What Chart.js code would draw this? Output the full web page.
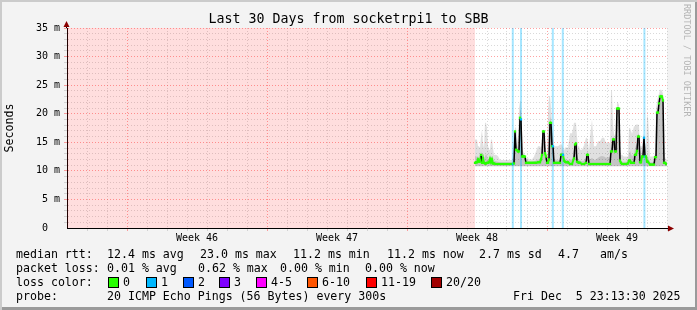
<!DOCTYPE html>
<html>
<head>
<meta charset="utf-8">
<script src="https://cdn.jsdelivr.net/npm/chart.js@4.4.1/dist/chart.umd.min.js"></script>
<style>
  html, body { margin: 0; padding: 0; background: #fff; }
  #wrap { position: relative; width: 697px; height: 310px; background: #f3f3f3; overflow: hidden;
          box-shadow: inset 2px 2px 0 #cbcbcb, inset -2px -3px 0 #9a9a9a; }
  #c { position: absolute; left: 0; top: 0; }
  .t { position: absolute; font-family: 'DejaVu Sans Mono', monospace; font-size: 11.6px; line-height: 14px;
       white-space: pre; color: #000; }
  .title { position: absolute; left: 0; width: 697px; top: 11px; text-align: center;
           font-family: 'DejaVu Sans Mono', monospace; font-size: 13.3px; line-height: 16px; color: #000; }
  .sw { position: absolute; width: 9px; height: 9px; border: 1px solid #000; }
  .credit { position: absolute; left: 682px; top: 4px; writing-mode: vertical-rl;
            font-family: 'DejaVu Sans Mono', monospace; font-size: 8.5px; line-height: 10px; color: #b4b4b4; }
</style>
</head>
<body>
<div id="wrap">
  <canvas id="c" width="697" height="310"></canvas>
  <div class="title">Last 30 Days from socketrpi1 to SBB</div>
  <div class="credit">RRDTOOL / TOBI OETIKER</div>
</div>
<script>
// time axis in days since start of window (30 days), values in ms
const weekLabels = ['Week 46', 'Week 47', 'Week 48', 'Week 49'];
const weekTicks = [6.5, 13.5, 20.5, 27.5];
const majorDays = [3, 10, 17, 24];
const yMajor = [5, 10, 15, 20, 25, 30, 35];

// period with no data (pink)
const noDataRange = [0, 20.4];
// loss events (1/20 lost)
const lossTimes = [22.29, 22.70, 24.29, 24.79, 28.87];

const times = [
  20.40, 20.45, 20.50, 20.55, 20.60, 20.65, 20.70, 20.75, 20.80, 20.85, 20.90, 20.95, 21.00, 21.05, 21.10, 21.15, 21.20, 21.25, 21.30, 21.35,
  21.45, 21.55, 21.65, 21.75, 21.85, 21.95, 22.05, 22.15, 22.25,
  22.30, 22.35, 22.40, 22.45, 22.50, 22.55, 22.60, 22.65, 22.70, 22.75, 22.80, 22.85, 22.90, 22.95,
  23.05, 23.15, 23.25, 23.35, 23.45, 23.55, 23.65,
  23.70, 23.75, 23.80, 23.85, 23.90, 23.95, 24.00, 24.05, 24.10, 24.15, 24.20, 24.25, 24.30, 24.35,
  24.45, 24.55, 24.65,
  24.70, 24.75, 24.80, 24.85, 24.90, 24.95,
  25.05, 25.15, 25.25,
  25.35, 25.40, 25.45, 25.50, 25.55, 25.60, 25.65,
  25.75, 25.85, 25.95, 26.00, 26.05, 26.10, 26.15, 26.25, 26.35, 26.45, 26.55, 26.65, 26.75, 26.85, 26.95, 27.05, 27.15,
  27.20, 27.25, 27.30, 27.35, 27.40, 27.45, 27.50, 27.55, 27.60, 27.65, 27.70, 27.75,
  27.85, 27.95, 28.05,
  28.10, 28.15, 28.20, 28.25,
  28.35, 28.40, 28.45, 28.50, 28.55, 28.60, 28.65, 28.70, 28.75, 28.80, 28.85, 28.90, 28.95, 29.00, 29.05,
  29.15, 29.25, 29.35,
  29.40, 29.45, 29.50, 29.55, 29.60, 29.65, 29.70, 29.75, 29.80, 29.85, 29.90, 29.95, 30.00
];

const median = [
  11.4, 11.5, 11.5, 12.0, 11.6, 11.8, 12.8, 11.4, 12.2, 11.4, 11.3, 11.3, 11.4, 11.4, 11.5, 12.1, 11.5, 12.0, 11.3, 11.3,
  11.2, 11.2, 11.2, 11.2, 11.2, 11.2, 11.2, 11.2, 11.2,
  11.2, 11.3, 16.9, 13.7, 13.6, 13.4, 13.4, 19.3, 19.0, 12.5, 12.6, 12.5, 12.5, 11.4,
  11.4, 11.4, 11.4, 11.4, 11.4, 11.5, 11.5,
  12.0, 12.8, 16.9, 16.9, 13.1, 12.5, 11.4, 11.4, 12.0, 18.4, 18.4, 14.3, 14.3, 11.4,
  11.4, 11.4, 11.4,
  12.8, 12.8, 12.8, 11.8, 11.6, 11.5,
  11.5, 11.2, 11.2,
  12.2, 14.6, 14.8, 11.6, 11.5, 11.4, 11.4,
  11.2, 11.2, 11.4, 12.8, 12.8, 11.2, 11.2, 11.2, 11.2, 11.2, 11.2, 11.2, 11.2, 11.2, 11.2, 11.2, 11.2,
  13.4, 13.4, 15.5, 15.5, 13.4, 13.4, 20.9, 20.9, 20.9, 11.8, 11.4, 11.2,
  11.2, 11.2, 11.3,
  11.8, 11.8, 11.4, 11.4,
  11.4, 12.8, 12.8, 13.5, 16.0, 16.0, 11.5, 11.5, 12.5, 12.5, 15.8, 12.5, 12.5, 11.6, 11.6,
  11.1, 11.1, 11.1,
  12.4, 12.4, 20.2, 20.2, 21.8, 23.0, 23.0, 23.0, 22.3, 11.4, 11.4, 11.2, 11.2
];

// smoke: highest ping of each interval
const smokeMax = [
  15.5, 15.5, 15.5, 14.3, 14.3, 14.0, 16.0, 17.2, 15.0, 14.0, 18.4, 18.4, 17.5, 14.5, 13.7, 13.7, 15.5, 15.5, 14.0, 12.8,
  12.8, 12.6, 11.9, 11.9, 11.9, 11.9, 11.9, 11.9, 11.9,
  12.5, 15.0, 17.6, 17.6, 16.0, 15.0, 21.0, 22.2, 22.2, 16.0, 13.5, 13.0, 12.8, 12.2,
  12.2, 12.0, 12.0, 12.5, 13.4, 14.3, 14.3,
  14.0, 15.0, 17.2, 17.2, 15.0, 13.5, 12.5, 20.0, 23.1, 23.1, 21.0, 18.0, 16.0, 14.3,
  14.3, 14.3, 14.6,
  14.6, 14.6, 14.0, 13.5, 14.1, 14.1,
  14.1, 16.6, 16.6,
  18.4, 18.4, 18.4, 16.0, 14.3, 14.3, 13.7,
  13.7, 14.5, 15.8, 15.8, 15.0, 13.5, 16.0, 19.0, 14.3, 14.3, 15.2, 15.2, 15.8, 15.8, 14.9, 14.9, 14.9,
  24.0, 24.0, 18.0, 16.5, 16.0, 17.0, 22.0, 22.0, 21.5, 14.0, 12.8, 12.8,
  12.5, 12.5, 12.5,
  17.5, 17.5, 17.0, 16.5,
  17.8, 17.8, 18.1, 18.1, 18.1, 18.0, 14.3, 14.3, 14.3, 16.0, 16.5, 15.0, 14.0, 19.5, 19.5,
  12.5, 12.5, 12.5,
  13.0, 21.0, 22.0, 23.0, 23.5, 24.2, 24.2, 24.0, 23.5, 14.0, 12.5, 12.0, 12.0
];

// smoke: denser middle part of the pings
const smokeMid = [
  12.5, 12.6, 12.4, 12.6, 12.2, 12.3, 13.4, 12.8, 13.0, 12.0, 12.5, 13.0, 12.6, 12.0, 12.0, 12.5, 12.3, 12.6, 12.0, 11.8,
  11.7, 11.6, 11.5, 11.5, 11.5, 11.5, 11.5, 11.5, 11.5,
  11.6, 12.5, 17.0, 15.0, 14.5, 14.0, 16.0, 20.7, 20.5, 13.5, 12.9, 12.7, 12.6, 11.7,
  11.7, 11.6, 11.6, 11.7, 11.8, 12.0, 12.0,
  12.3, 13.5, 17.0, 17.0, 13.8, 12.8, 11.8, 13.0, 15.0, 19.5, 19.0, 15.5, 14.8, 12.0,
  12.0, 11.8, 12.0,
  13.2, 13.2, 13.0, 12.3, 12.2, 12.0,
  11.9, 12.0, 12.0,
  13.0, 15.0, 15.2, 12.5, 12.0, 11.9, 11.8,
  11.7, 11.8, 12.2, 13.3, 13.2, 11.8, 12.0, 12.3, 11.9, 12.0, 12.3, 12.5, 12.6, 12.5, 12.3, 12.4, 12.5,
  15.0, 15.2, 16.0, 15.8, 14.2, 14.5, 21.0, 21.0, 20.9, 12.5, 11.8, 11.6,
  11.6, 11.6, 11.7,
  13.0, 13.5, 13.0, 12.5,
  13.0, 14.0, 14.5, 15.0, 16.5, 16.5, 12.5, 12.3, 13.0, 13.5, 16.0, 13.0, 12.8, 12.5, 12.5,
  11.5, 11.5, 11.5,
  12.6, 14.0, 20.8, 21.0, 22.3, 23.4, 23.4, 23.3, 22.8, 12.0, 11.7, 11.5, 11.5
];
const smokeFloor = 10.8;

// legend text
const statRows = [
  ['median rtt:', '12.4 ms avg', '23.0 ms max', '11.2 ms min', '11.2 ms now', '2.7 ms sd', '4.7', 'am/s'],
  ['packet loss:', '0.01 % avg', '0.62 % max', '0.00 % min', '0.00 % now']
];
const lossLabels = ['0', '1', '2', '3', '4-5', '6-10', '11-19', '20/20'];
const lossColors = ['#26ff00', '#00b8ff', '#0059ff', '#7e00ff', '#ff00ff', '#ff5500', '#ff0000', '#a10000'];
const probeText = ['probe:', '20 ICMP Echo Pings (56 Bytes) every 300s', 'Fri Dec  5 23:13:30 2025'];

// layout of the legend block
const statX = [[16, 107, 200, 293, 387, 479, 558, 600], [16, 107, 198, 280, 365]];
const swatchX = [108, 146, 183, 219, 256, 307, 366, 431];
const probeX = [16, 107, 513];
const rowTop = [247, 261, 275, 289];

const wrap = document.getElementById('wrap');
function addText(txt, x, y) {
    const d = document.createElement('div');
    d.className = 't';
    d.style.left = x + 'px';
    d.style.top = y + 'px';
    d.textContent = txt;
    wrap.appendChild(d);
}
statRows.forEach((row, r) => row.forEach((txt, i) => addText(txt, statX[r][i], rowTop[r])));
addText('loss color:', 16, rowTop[2]);
lossLabels.forEach((lbl, i) => {
    const s = document.createElement('div');
    s.className = 'sw';
    s.style.left = swatchX[i] + 'px';
    s.style.top = (rowTop[2] + 2) + 'px';
    s.style.background = lossColors[i];
    wrap.appendChild(s);
    addText(lbl, swatchX[i] + 15, rowTop[2]);
});
probeText.forEach((txt, i) => addText(txt, probeX[i], rowTop[3]));

const pts = ys => times.map((t, i) => ({ x: t, y: ys[i] }));
const isLoss = t => lossTimes.some(l => Math.abs(l - t) < 0.03);

const halfDays = [];
for (let d = 0; d <= 60; d++) halfDays.push(d / 2);
const yTicks = [];
for (let v = 0; v <= 35; v++) yTicks.push(v);

const MAJOR = 'rgba(255, 70, 70, 0.5)';
const MINOR = 'rgba(160, 160, 160, 0.4)';

function xGrid(ctx) {
    if (!ctx.tick) return 'transparent';
    const v = ctx.tick.value;
    if (v === 0 || v % 1 !== 0) return 'transparent';
    return majorDays.includes(v) ? MAJOR : MINOR;
}
function yGrid(ctx) {
    if (!ctx.tick) return 'transparent';
    const v = ctx.tick.value;
    if (v === 0) return 'transparent';
    return yMajor.includes(v) ? MAJOR : MINOR;
}

const frame = {
    id: 'frame',
    beforeDraw(chart) {
        const { ctx, chartArea: a } = chart;
        ctx.save();
        ctx.fillStyle = '#ffffff';
        ctx.fillRect(a.left, a.top, a.right - a.left, a.bottom - a.top);
        ctx.restore();
    },
    afterDraw(chart) {
        const { ctx, chartArea: a } = chart;
        ctx.save();
        ctx.strokeStyle = '#000';
        ctx.lineWidth = 1;
        ctx.beginPath();
        ctx.moveTo(a.right, a.bottom + 0.5);
        ctx.lineTo(a.right + 4, a.bottom + 0.5);
        ctx.moveTo(a.left - 0.5, a.top);
        ctx.lineTo(a.left - 0.5, a.top - 3);
        ctx.stroke();
        ctx.fillStyle = '#8b0000';
        ctx.beginPath();
        ctx.moveTo(a.right + 7, a.bottom + 0.5);
        ctx.lineTo(a.right + 1, a.bottom - 2.5);
        ctx.lineTo(a.right + 1, a.bottom + 3.5);
        ctx.closePath();
        ctx.fill();
        ctx.beginPath();
        ctx.moveTo(a.left - 0.5, a.top - 7);
        ctx.lineTo(a.left - 3.5, a.top - 1);
        ctx.lineTo(a.left + 2.5, a.top - 1);
        ctx.closePath();
        ctx.fill();
        ctx.restore();
    }
};

Chart.defaults.font.family = "'DejaVu Sans Mono', monospace";

new Chart(document.getElementById('c'), {
    type: 'line',
    data: {
        datasets: [
            {
                // median rtt, coloured by loss
                data: pts(median),
                borderWidth: 2,
                borderColor: '#26ff00',
                segment: {
                    borderColor: ctx => Math.abs(ctx.p1.parsed.y - ctx.p0.parsed.y) > 1.0 ? '#000000' : '#26ff00',
                    borderWidth: ctx => Math.abs(ctx.p1.parsed.y - ctx.p0.parsed.y) > 1.0 ? 1.5 : 2
                },
                pointStyle: 'rect',
                pointRadius: 1.6,
                pointBorderWidth: 0,
                pointBackgroundColor: times.map(t => isLoss(t) ? '#00b8ff' : '#26ff00'),
                tension: 0,
                order: 1
            },
            {
                data: lossTimes.flatMap(t => [{ x: t, y: 0 }, { x: t, y: 35 }, { x: t, y: null }]),
                borderColor: 'rgba(0, 184, 255, 0.35)',
                borderWidth: 2,
                pointRadius: 0,
                spanGaps: false,
                order: 2
            },
            {
                data: pts(smokeMid),
                borderWidth: 0,
                pointRadius: 0,
                backgroundColor: 'rgba(0, 0, 0, 0.12)',
                fill: { value: smokeFloor },
                order: 3
            },
            {
                data: pts(smokeMax),
                borderWidth: 0,
                pointRadius: 0,
                backgroundColor: 'rgba(0, 0, 0, 0.12)',
                fill: { value: smokeFloor },
                order: 4
            },
            {
                data: [{ x: noDataRange[0], y: 35 }, { x: noDataRange[1], y: 35 }],
                borderWidth: 0,
                pointRadius: 0,
                backgroundColor: 'rgba(255, 0, 0, 0.13)',
                fill: 'origin',
                order: 5
            }
        ]
    },
    options: {
        responsive: false,
        animation: false,
        devicePixelRatio: 1,
        layout: { padding: { top: 28, right: 30, bottom: 65, left: 0 } },
        plugins: {
            legend: { display: false },
            tooltip: { enabled: false }
        },
        scales: {
            x: {
                type: 'linear',
                min: 0,
                max: 30,
                offset: false,
                afterBuildTicks: s => { s.ticks = halfDays.map(v => ({ value: v })); },
                afterFit: s => { s.height = 17; },
                grid: { color: xGrid, tickColor: xGrid, tickLength: 3, offset: false },
                border: { display: true, color: '#000', width: 1, dash: [1, 2] },
                ticks: {
                    autoSkip: false,
                    maxRotation: 0,
                    minRotation: 0,
                    padding: 1,
                    color: '#000',
                    font: { size: 10 },
                    callback: v => {
                        const i = weekTicks.indexOf(v);
                        return i >= 0 ? weekLabels[i] : '';
                    }
                }
            },
            y: {
                min: 0,
                max: 35,
                afterBuildTicks: s => { s.ticks = yTicks.map(v => ({ value: v })); },
                afterFit: s => { s.width = 67; },
                grid: { color: yGrid, tickColor: yGrid, tickLength: 3 },
                border: { display: true, color: '#000', width: 1, dash: [1, 2] },
                title: {
                    display: true,
                    text: 'Seconds',
                    color: '#000',
                    font: { size: 11.6 },
                    padding: { top: 3.5, bottom: 0 }
                },
                ticks: {
                    autoSkip: false,
                    padding: 4,
                    color: '#000',
                    font: { size: 10 },
                    callback: v => v === 0 ? '0  ' : (yMajor.includes(v) ? v + ' m' : '')
                }
            }
        }
    },
    plugins: [frame]
});
</script>
</body>
</html>
